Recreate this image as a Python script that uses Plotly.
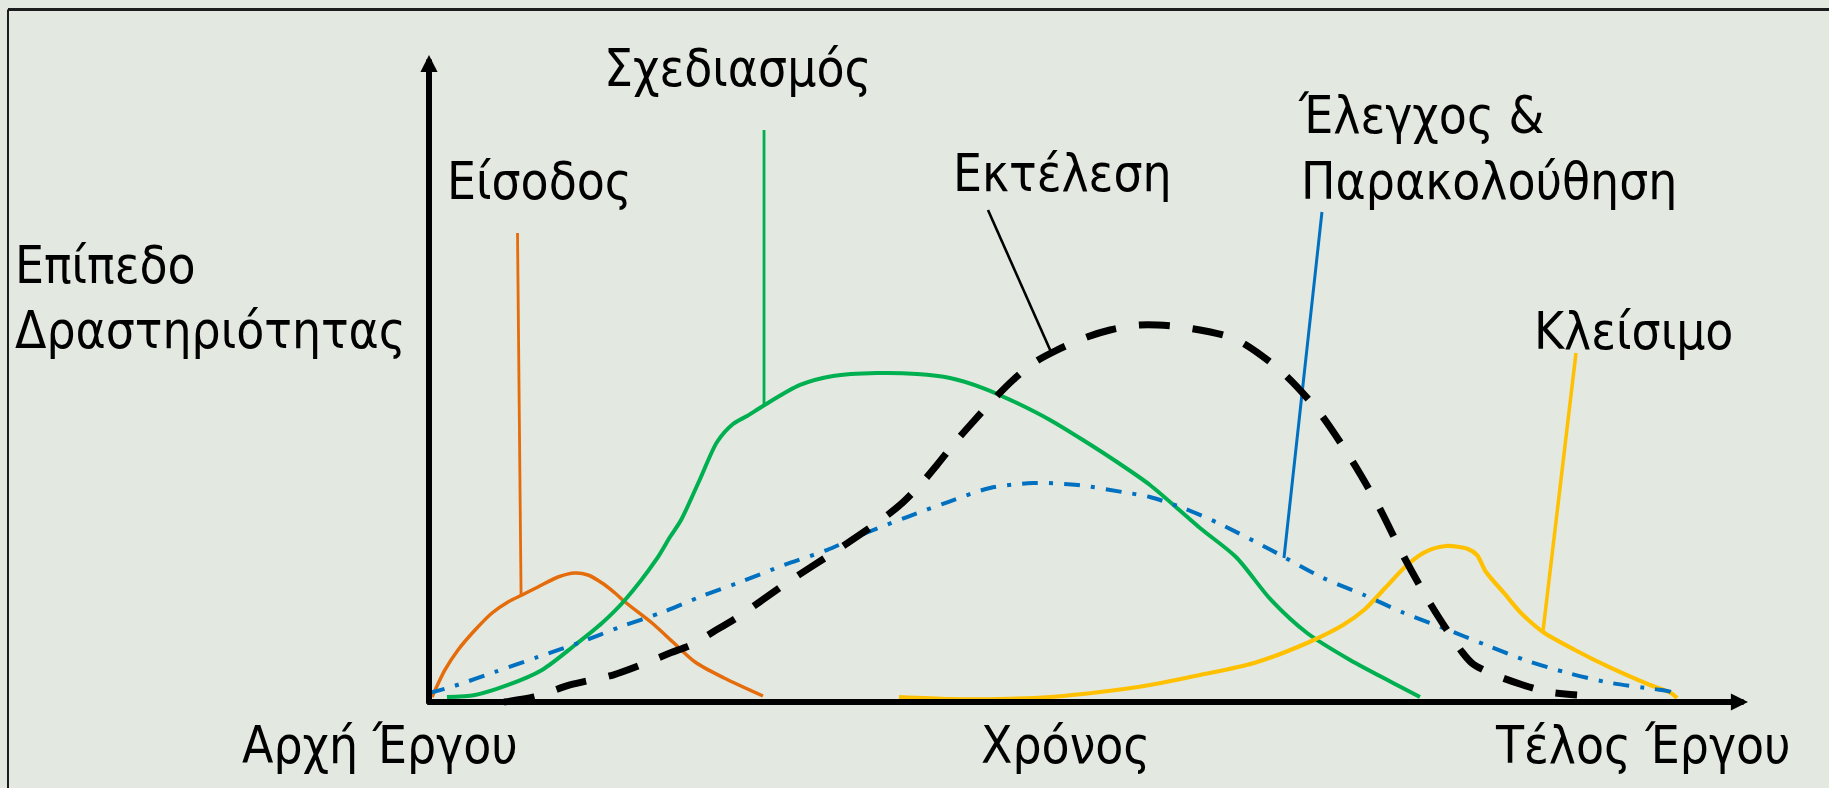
import plotly.graph_objects as go

# ---------------- data (time 0..100 = start..arrow tip, level 0..100) ----------------
entry_t = [0.23, 1.21, 2.20, 3.49, 4.78, 5.99, 7.05, 8.26, 9.78, 11.07, 12.05, 13.12, 14.10, 14.86,
           16.91, 18.57, 20.17, 22.37, 25.32]
entry_v = [0.77, 4.95, 8.04, 11.13, 13.76, 15.46, 16.54, 17.77, 19.32, 19.94, 19.63, 18.39, 16.85, 15.46,
           12.21, 9.12, 6.18, 3.71, 0.93]

design_t = [1.36, 3.49, 5.99, 8.57, 11.07, 13.12, 14.86, 17.21, 18.27, 19.11, 20.55, 21.84, 23.05, 24.11,
            25.32, 28.13, 30.63, 33.97, 37.00, 39.50, 42.00, 44.58, 47.08, 49.58, 52.16, 54.66, 58.45, 61.18,
            63.84, 66.57, 69.83, 73.09, 75.13]
design_v = [0.77, 1.08, 2.63, 4.95, 8.81, 12.21, 15.77, 21.95, 25.50, 28.13, 34.47, 40.19, 42.97, 44.20,
            45.75, 49.00, 50.39, 50.85, 50.70, 50.08, 48.53, 46.21, 43.59, 40.49, 37.09, 33.54, 26.89, 22.41,
            15.77, 10.66, 6.49, 2.94, 0.77]

exec_t = [5.69, 7.96, 10.69, 13.95, 16.07, 18.27, 19.86, 21.53, 23.65, 27.22, 30.71, 34.04, 35.71, 37.23, 38.51,
          40.03, 41.24, 42.76, 44.28, 45.94, 47.61, 49.89, 51.63, 53.90, 57.01, 61.11, 64.59, 67.48, 69.90, 72.02,
          73.92, 75.97, 78.32, 79.15, 80.82, 82.94, 84.84, 87.04]
exec_v = [0.0, 0.77, 2.63, 4.17, 5.72, 7.57, 8.81, 10.82, 13.45, 18.55, 23.18, 27.82, 30.45, 33.54, 36.63,
          40.49, 43.28, 46.68, 49.77, 52.55, 54.40, 56.41, 57.50, 58.27, 57.96, 56.11, 51.16, 44.82, 37.56, 30.14,
          22.41, 14.99, 7.73, 5.87, 4.17, 2.63, 1.55, 1.08]

control_t = [0.00, 1.90, 5.00, 8.26, 11.52, 14.48, 17.74, 20.70, 23.81, 26.91, 30.17, 33.13, 36.24, 39.35, 42.53,
             45.79, 49.20, 52.54, 54.66, 57.16, 59.82, 63.84, 67.63, 70.89, 73.92, 76.88, 80.14, 83.09, 86.35,
             89.61, 92.87, 94.16, 94.62]
control_v = [1.39, 2.47, 4.64, 6.96, 9.27, 11.59, 13.91, 16.38, 18.70, 21.17, 23.49, 26.12, 28.59, 30.91, 33.08,
             33.85, 33.54, 32.46, 31.68, 29.98, 27.67, 23.49, 19.32, 16.54, 13.76, 11.44, 8.81, 6.49, 4.48,
             2.94, 2.01, 1.55, 0.77]

closing_t = [35.63, 39.50, 43.29, 47.08, 50.87, 54.66, 58.45, 62.55, 66.57, 69.30, 70.89, 72.56, 74.15, 75.51,
             77.10, 78.77, 79.45, 80.14, 81.50, 82.79, 84.46, 86.88, 89.61, 92.57, 94.16, 94.62]
closing_v = [0.77, 0.46, 0.46, 0.77, 1.55, 2.63, 4.17, 6.03, 9.12, 11.90, 14.22, 17.77, 21.17, 23.18,
             24.11, 23.65, 22.72, 20.09, 16.85, 13.76, 10.82, 8.04, 5.26, 2.63, 1.39, 0.62]

# callout (leader) lines: label end -> curve end
entry_lead_t, entry_lead_v = [6.71, 6.98], [72.49, 16.45]
design_lead_t, design_lead_v = [25.40, 25.40], [88.41, 45.75]
exec_lead_t, exec_lead_v = [42.38, 47.16], [76.04, 54.10]
control_lead_t, control_lead_v = [67.70, 64.82], [75.73, 22.26]
closing_lead_t, closing_lead_v = [86.96, 84.46], [53.94, 10.97]

y_label_lines = ["Επίπεδο", "Δραστηριότητας"]
phase_names = ["Είσοδος", "Σχεδιασμός", "Εκτέλεση", "Έλεγχος &", "Παρακολούθηση", "Κλείσιμο"]
x_labels = ["Αρχή Έργου", "Χρόνος", "Τέλος Έργου"]

# ---------------- styling ----------------
W, H = 1829, 788
BG = "#E3E8E1"
ORANGE = "#E46C0A"
GREEN = "#00B050"
BLUE = "#0070C0"
YELLOW = "#FFC000"
BLACK = "#000000"
FONT = "DejaVu Sans Condensed, Liberation Sans Narrow, DejaVu Sans, sans-serif"
FS = 51

fig = go.Figure()

def line(t, v, color, width, dash="solid", shape="spline", smoothing=0.8):
    fig.add_trace(go.Scatter(
        x=t, y=v, mode="lines",
        line=dict(color=color, width=width, dash=dash, shape=shape,
                  smoothing=smoothing if shape == "spline" else None),
        hoverinfo="skip", showlegend=False, cliponaxis=False))

# leader lines
line(entry_lead_t, entry_lead_v, ORANGE, 2.8, shape="linear")
line(design_lead_t, design_lead_v, GREEN, 2.8, shape="linear")
line(exec_lead_t, exec_lead_v, BLACK, 2.6, shape="linear")
line(control_lead_t, control_lead_v, BLUE, 3, shape="linear")
line(closing_lead_t, closing_lead_v, YELLOW, 3.5, shape="linear")

# curves
line(entry_t, entry_v, ORANGE, 3.5)
line(design_t, design_v, GREEN, 4)
line(closing_t, closing_v, YELLOW, 4.2)
line(control_t, control_v, BLUE, 4, dash="16px,11px,4px,11px")
line(exec_t, exec_v, BLACK, 7, dash="31px,23px")

annotations = []
# axes with arrow heads
annotations.append(dict(x=0, y=100, ax=0, ay=-0.5, xref="x", yref="y", axref="x", ayref="y",
                        text="", showarrow=True, arrowhead=2, arrowwidth=6, arrowsize=0.57,
                        arrowcolor=BLACK))
annotations.append(dict(x=100, y=0, ax=-0.25, ay=0, xref="x", yref="y", axref="x", ayref="y",
                        text="", showarrow=True, arrowhead=2, arrowwidth=6, arrowsize=0.57,
                        arrowcolor=BLACK))

def label(text, x, y, xanchor):
    annotations.append(dict(text=text, x=x, y=y, xref="paper", yref="paper",
                            xanchor=xanchor, yanchor="middle", showarrow=False,
                            font=dict(family=FONT, size=FS, color="#000000")))

label(y_label_lines[0], 0.0071, 0.6637, "left")
label(y_label_lines[1], 0.0071, 0.5812, "left")
label(phase_names[0], 0.2950, 0.7703, "center")
label(phase_names[1], 0.4030, 0.9137, "center")
label(phase_names[2], 0.5809, 0.7792, "center")
label(phase_names[3], 0.7086, 0.8528, "left")
label(phase_names[4], 0.7102, 0.7703, "left")
label(phase_names[5], 0.8931, 0.5787, "center")
label(x_labels[0], 0.2078, 0.0533, "center")
label(x_labels[1], 0.5825, 0.0533, "center")
label(x_labels[2], 0.8983, 0.0533, "center")

shapes = [
    dict(type="line", xref="paper", yref="paper", x0=0.00437, x1=1.02, y0=0.98794, y1=0.98794,
         line=dict(color="#1C1C1C", width=3)),
    dict(type="line", xref="paper", yref="paper", x0=0.00437, x1=0.00437, y0=-0.02, y1=0.98794,
         line=dict(color="#1C1C1C", width=2)),
]

fig.update_layout(
    width=W, height=H,
    margin=dict(l=0, r=0, t=0, b=0),
    paper_bgcolor=BG, plot_bgcolor=BG,
    xaxis=dict(range=[-32.525, 106.141], visible=False, fixedrange=True),
    yaxis=dict(range=[-13.292, 108.501], visible=False, fixedrange=True),
    annotations=annotations,
    shapes=shapes,
    showlegend=False,
)

fig.write_html(
    "out.html",
    config={"displayModeBar": False},
    post_script="document.body.style.margin='0';document.body.style.overflow='hidden';"
                "document.body.style.background='" + BG + "';",
)
